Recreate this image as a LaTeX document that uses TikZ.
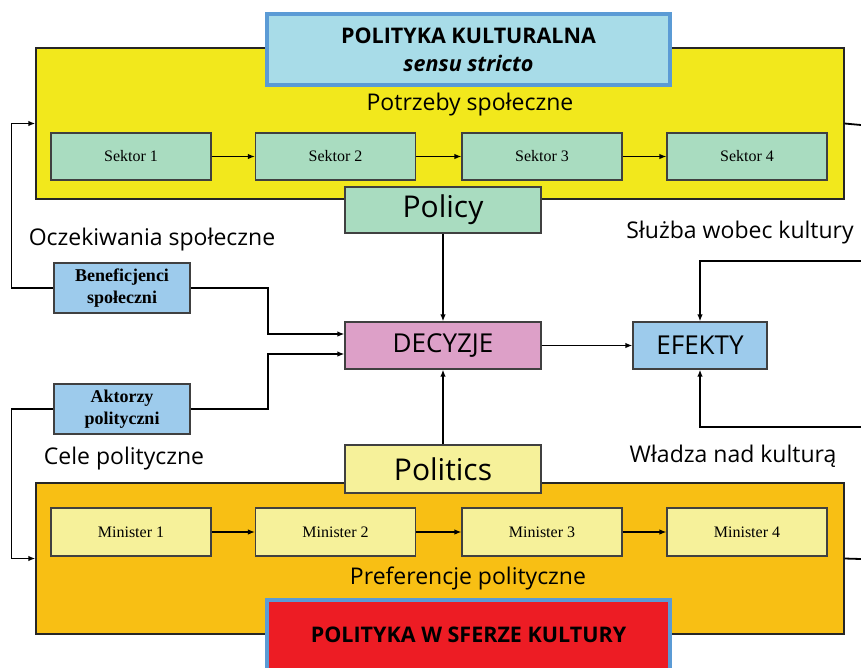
\documentclass[tikz,border=0pt]{standalone}
\usepackage{fontspec}
\setmainfont{Open Sans}
\newfontfamily\boxserif{Liberation Serif}
\usetikzlibrary{arrows.meta}

\definecolor{potrzeby}{HTML}{F2E81C}
\definecolor{preferencje}{HTML}{F8BF14}
\definecolor{mint}{HTML}{A9DCC0}
\definecolor{pastelyellow}{HTML}{F6F19A}
\definecolor{skyfill}{HTML}{A8DCE8}
\definecolor{frameblue}{HTML}{5B9BD5}
\definecolor{beneblue}{HTML}{9DCBEC}
\definecolor{decpink}{HTML}{DDA0C8}
\definecolor{redfill}{HTML}{ED1C24}

\tikzset{
  bigbox/.style={draw=black!85, line width=1.3pt, minimum width=808, minimum height=151, inner sep=0},
  titlebox/.style={draw=frameblue, line width=4pt, minimum width=403, minimum height=71, inner sep=0, align=center, font=\fontsize{21.5}{28}\selectfont\bfseries},
  smallbox/.style={draw=black!75, line width=1.2pt, minimum width=160, minimum height=47, inner sep=0, font=\boxserif\fontsize{16}{18}\selectfont},
  actorbox/.style={draw=black!75, line width=1.2pt, fill=beneblue, minimum width=136, minimum height=50, inner sep=0, align=center, font=\boxserif\bfseries\fontsize{18}{22}\selectfont},
  midbox/.style={draw=black!75, line width=1.2pt, minimum width=196, minimum height=47, inner sep=0},
  label/.style={font=\fontsize{23}{26}\selectfont, inner sep=0},
  arr/.style={-{Latex[length=7pt,width=5.5pt]}, line width=1.8pt},
  thinarr/.style={-{Latex[length=7pt,width=5.5pt]}, line width=1.3pt},
}

\begin{document}
\begin{tikzpicture}[x=1pt,y=-1pt]
\clip (0,0) rectangle (861,667);
\fill[white] (0,0) rectangle (861,667);

% polityka kulturalna sensu stricto
\node[bigbox, fill=potrzeby] (yel) at (440,123.5) {};
\node[titlebox, fill=skyfill] (tytul) at (468.5,49.5) {POLITYKA KULTURALNA\\\itshape sensu stricto};
\node[label] (potrz) at (470,105) {Potrzeby społeczne};
\node[smallbox, fill=mint] (sek1) at (131,156.5) {Sektor 1};
\node[smallbox, fill=mint] (sek2) at (335.5,156.5) {Sektor 2};
\node[smallbox, fill=mint] (sek3) at (542,156.5) {Sektor 3};
\node[smallbox, fill=mint] (sek4) at (747,156.5) {Sektor 4};
\draw[thinarr] (sek1) -- (sek2);
\draw[thinarr] (sek2) -- (sek3);
\draw[thinarr] (sek3) -- (sek4);

% polityka w sferze kultury
\node[bigbox, fill=preferencje] (ora) at (440,558.5) {};
\node[label] (pref) at (468,578) {Preferencje polityczne};
\node[titlebox, fill=redfill] (czerw) at (468.5,635) {POLITYKA W SFERZE KULTURY};
\node[smallbox, fill=pastelyellow, minimum height=48] (min1) at (131,532) {Minister 1};
\node[smallbox, fill=pastelyellow, minimum height=48] (min2) at (335.5,532) {Minister 2};
\node[smallbox, fill=pastelyellow, minimum height=48] (min3) at (542,532) {Minister 3};
\node[smallbox, fill=pastelyellow, minimum height=48] (min4) at (747,532) {Minister 4};
\draw[thinarr] (min1) -- (min2);
\draw[thinarr] (min2) -- (min3);
\draw[thinarr] (min3) -- (min4);

% srodek
\node[midbox, fill=mint, minimum height=46, font=\fontsize{30}{34}\selectfont] (policy) at (443,210) {Policy};
\node[midbox, fill=pastelyellow, minimum height=48, font=\fontsize{30}{34}\selectfont] (politics) at (443,469) {Politics};
\node[midbox, fill=decpink, font=\fontsize{26}{30}\selectfont] (dec) at (443,345.5) {DECYZJE};
\node[midbox, fill=beneblue, minimum width=134, font=\fontsize{26}{30}\selectfont] (efe) at (700,345.5) {EFEKTY};
\node[actorbox] (ben) at (122,288) {Beneficjenci\\społeczni};
\node[actorbox] (akt) at (122,409) {Aktorzy\\polityczni};

\node[label] (ocz) at (152,240) {Oczekiwania społeczne};
\node[label] (cele) at (124,459) {Cele polityczne};
\node[label] (sluzba) at (740,233) {Służba wobec kultury};
\node[label] (wladza) at (733,456) {Władza nad kulturą};

\coordinate (prawo1) at (861,125);
\coordinate (prawo2) at (861,559);
\coordinate (prawo3) at (861,261);
\coordinate (prawo4) at (861,427);

\draw[arr] (policy) -- (dec);
\draw[arr] (politics) -- (dec);
\draw[arr] (dec) -- (efe);
\draw[arr] (ben.east) -- ++(77,0) |- ([yshift=11.5pt]dec.west);
\draw[arr] (akt.east) -- ++(77,0) |- ([yshift=-8.5pt]dec.west);
\draw[arr] (ben.west) -- ++(-42,0) |- (yel.west);
\draw[arr] (akt.west) -- ++(-42,0) |- (ora.west);
\draw[line width=1.8pt] (yel.east) -- (prawo1);
\draw[line width=1.8pt] (ora.east) -- (prawo2);
\draw[arr] (prawo3) -| (efe.north);
\draw[arr] (prawo4) -| (efe.south);
\end{tikzpicture}
\end{document}
